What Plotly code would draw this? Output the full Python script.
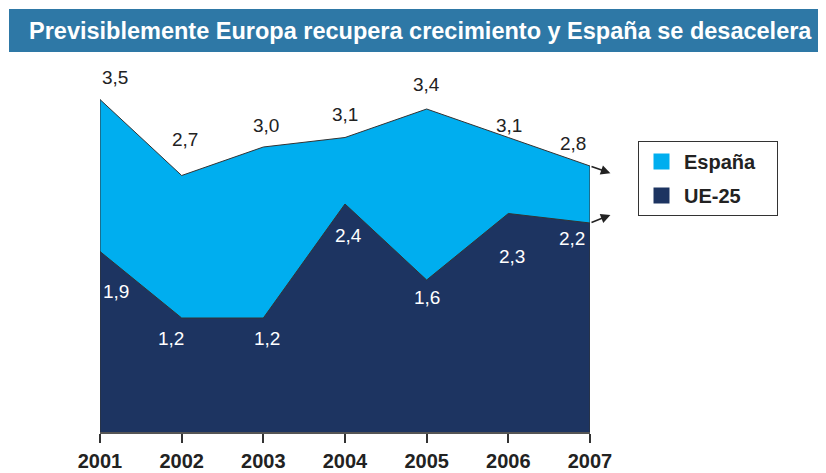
import plotly.graph_objects as go

years = [2001, 2002, 2003, 2004, 2005, 2006, 2007]
espana = [3.5, 2.7, 3.0, 3.1, 3.4, 3.1, 2.8]
ue25 = [1.9, 1.2, 1.2, 2.4, 1.6, 2.3, 2.2]
labels_es = ["3,5", "2,7", "3,0", "3,1", "3,4", "3,1", "2,8"]
labels_ue = ["1,9", "1,2", "1,2", "2,4", "1,6", "2,3", "2,2"]
title = "Previsiblemente Europa recupera crecimiento y España se desacelera"

C_ES = "#00aeef"
C_UE = "#1d3461"
C_LINE = "#333333"
FONT = "Arial, Liberation Sans, sans-serif"

# label offsets (pixels) for styling
es_off = [(15, 22), (3, 36), (3, 22), (0, 23), (0, 25), (1, 12), (-17, 23)]
ue_off = [(16, -40), (-11, -20), (4, -20), (3, -31), (0, -17), (4, -43), (-18, -15)]

# page offset compensation (body margin of 8px)
OFF = 8
PL, PR, PT, PB = 100, 590, 52, 432  # plot area in page pixels
PW, PH = PR - PL, PB - PT

def px2paper_x(px):
    return (px - PL) / PW

def px2paper_y(py):
    return (PB - py) / PH

fig = go.Figure()

def closed(xs, ys):
    return [xs[0]] + xs + [xs[-1]], [0] + ys + [0]

xe, ye = closed(years, espana)
fig.add_trace(go.Scatter(x=xe, y=ye, mode="lines", fill="toself", fillcolor=C_ES,
                         line=dict(color=C_LINE, width=1), showlegend=False, hoverinfo="skip"))
xu, yu = closed(years, ue25)
fig.add_trace(go.Scatter(x=xu, y=yu, mode="lines", fill="toself", fillcolor=C_UE,
                         line=dict(color=C_LINE, width=1), showlegend=False, hoverinfo="skip"))
# legend entries
fig.add_trace(go.Scatter(x=[None], y=[None], mode="markers", name="<b>España</b>&nbsp;&nbsp;&nbsp;",
                         legendgroup="es",
                         marker=dict(symbol="square", size=17, color=C_ES)))
fig.add_trace(go.Scatter(x=[None], y=[None], mode="markers", name="<b>UE-25</b>",
                         legendgroup="ue",
                         marker=dict(symbol="square", size=17, color=C_UE)))

anns = []
for x, y, t, (dx, dy) in zip(years, espana, labels_es, es_off):
    anns.append(dict(x=x, y=y, text=t, showarrow=False, xshift=dx, yshift=dy,
                     font=dict(size=19, color="#222222", family=FONT)))
for x, y, t, (dx, dy) in zip(years, ue25, labels_ue, ue_off):
    anns.append(dict(x=x, y=y, text=t, showarrow=False, xshift=dx, yshift=dy,
                     font=dict(size=19, color="white", family=FONT)))

# arrows from series ends towards legend
anns.append(dict(x=years[-1] + 0.25, y=espana[-1] - 0.075, ax=years[-1], ay=espana[-1],
                 axref="x", ayref="y", xref="x", yref="y", showarrow=True,
                 arrowhead=2, arrowsize=1.2, arrowwidth=1.6, arrowcolor="#222222", text=""))
anns.append(dict(x=years[-1] + 0.25, y=ue25[-1] + 0.085, ax=years[-1], ay=ue25[-1],
                 axref="x", ayref="y", xref="x", yref="y", showarrow=True,
                 arrowhead=2, arrowsize=1.2, arrowwidth=1.6, arrowcolor="#222222", text=""))

# title text
anns.append(dict(xref="paper", yref="paper", x=px2paper_x(27), y=px2paper_y(31),
                 xanchor="left", yanchor="middle", showarrow=False, text="<b>" + title + "</b>",
                 font=dict(size=23.5, color="white", family=FONT)))

fig.update_layout(
    width=826, height=473,
    margin=dict(l=PL - OFF, r=826 - PR + OFF, t=PT - OFF, b=473 - PB + OFF, autoexpand=False),
    paper_bgcolor="white", plot_bgcolor="white",
    showlegend=True,
    legend=dict(x=px2paper_x(638), y=px2paper_y(141), xanchor="left", yanchor="top",
                bordercolor="#333333", borderwidth=1, bgcolor="white",
                font=dict(size=20, family=FONT, color="#222222"),
                tracegroupgap=5, itemwidth=35),
    annotations=anns,
    shapes=[dict(type="rect", xref="paper", yref="paper",
                 x0=px2paper_x(9), x1=px2paper_x(824),
                 y0=px2paper_y(52), y1=px2paper_y(9),
                 fillcolor="#2e78a6", line=dict(width=0), layer="below")],
    xaxis=dict(range=[2001, 2007], tickmode="array", tickvals=years,
               ticktext=["<b>%d</b>" % y for y in years],
               showgrid=False, zeroline=False, showline=True, linecolor="#555555", linewidth=1.5,
               ticks="outside", ticklen=9, tickcolor="#333333", tickwidth=1.5,
               ticklabelstandoff=1, automargin=False,
               tickfont=dict(size=20, family=FONT, color="#222222")),
    yaxis=dict(range=[0, 4], visible=False, showgrid=False, zeroline=False, automargin=False),
)

fig.write_html("out.html")
